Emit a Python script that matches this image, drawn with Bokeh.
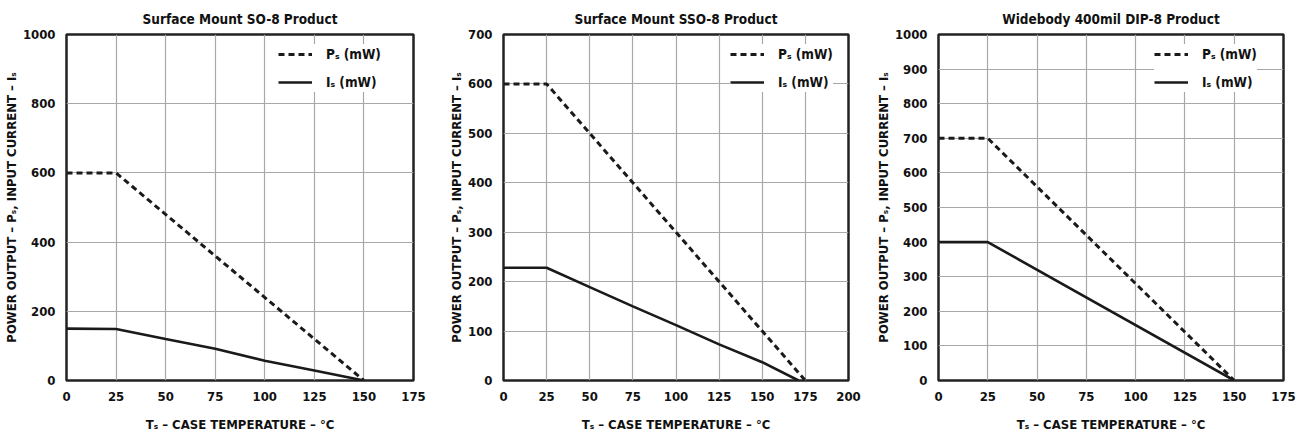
from bokeh.plotting import figure
from bokeh.layouts import row
from bokeh.models import Legend, LegendItem, FixedTicker, Range1d
from bokeh.embed import file_html
from bokeh.resources import INLINE

FONT = "'DejaVu Sans Condensed', 'Roboto Condensed', 'Liberation Sans Narrow', Roboto, sans-serif"

# Panel 1: Surface Mount SO-8
t1_ps = [0, 25, 150]
ps1 = [600, 600, 0]
t1_is = [0, 25, 50, 75, 100, 125, 150]
is1 = [150, 149, 120, 92, 57, 29, 0]

# Panel 2: Surface Mount SSO-8
t2_ps = [0, 25, 175]
ps2 = [600, 600, 0]
t2_is = [0, 25, 50, 75, 100, 125, 150, 171]
is2 = [228, 228, 189, 150, 112, 73, 37, 0]

# Panel 3: Widebody 400mil DIP-8
t3_ps = [0, 25, 150]
ps3 = [700, 700, 0]
t3_is = [0, 25, 150]
is3 = [400, 400, 0]

titles = ["Surface Mount SO-8 Product", "Surface Mount SSO-8 Product", "Widebody 400mil DIP-8 Product"]
x_max = [175, 200, 175]
y_max = [1000, 700, 1000]
y_step = [200, 100, 100]
x_ticks = [list(range(0, 176, 25)), list(range(0, 201, 25)), list(range(0, 176, 25))]

xlabel = "Tₛ – CASE TEMPERATURE – °C"
ylabel = "POWER OUTPUT – Pₛ, INPUT CURRENT – Iₛ"
leg_ps = "Pₛ (mW)"
leg_is = "Iₛ (mW)"

# (border_left, border_right, frame_width, legend_x)
borders = [(66, 27, 347, 212), (63, 24, 345, 227), (64, 23, 345, 216)]
FH = 346

data = [(t1_ps, ps1, t1_is, is1), (t2_ps, ps2, t2_is, is2), (t3_ps, ps3, t3_is, is3)]

figs = []
for i in range(3):
    bl, br, fw, lx = borders[i]
    p = figure(frame_width=fw, frame_height=FH, output_backend="svg", toolbar_location=None,
               x_range=Range1d(0, x_max[i]), y_range=Range1d(0, y_max[i]),
               min_border_left=bl, min_border_right=br, min_border_top=33, min_border_bottom=57,
               title=titles[i])
    p.title.align = "center"
    p.title.text_font = FONT
    p.title.text_font_size = "13.5px"
    p.title.text_font_style = "bold"
    p.title.text_color = "#111111"
    p.title.standoff = 16
    p.title.offset = 0

    p.outline_line_color = "#222222"
    p.outline_line_width = 2.5

    p.xaxis.ticker = FixedTicker(ticks=x_ticks[i])
    p.yaxis.ticker = FixedTicker(ticks=list(range(0, y_max[i] + 1, y_step[i])))
    for ax in (p.xaxis, p.yaxis):
        ax.axis_line_color = None
        ax.major_tick_line_color = None
        ax.minor_tick_line_color = None
        ax.major_label_text_font = FONT
        ax.major_label_text_font_style = "bold"
        ax.major_label_text_font_size = "13px"
        ax.major_label_text_color = "#111111"
        ax.axis_label_text_font = FONT
        ax.axis_label_text_font_style = "bold"
        ax.axis_label_text_font_size = "13px"
        ax.axis_label_text_color = "#111111"
    p.xaxis.axis_label = xlabel
    p.yaxis.axis_label = ylabel
    p.xaxis.major_label_standoff = 5
    p.xaxis.axis_label_standoff = 13
    p.yaxis.major_label_standoff = 5
    p.yaxis.axis_label_standoff = 1

    p.xgrid.grid_line_color = "#a8a8a8"
    p.ygrid.grid_line_color = "#a8a8a8"
    p.xgrid.grid_line_width = 1.2
    p.ygrid.grid_line_width = 1.2
    p.xgrid.ticker = p.xaxis.ticker
    p.ygrid.ticker = p.yaxis.ticker

    tx, py, ti, iy = data[i]
    r_ps = p.line(tx, py, line_color="#1a1a1a", line_width=3, line_dash="6 4")
    r_is = p.line(ti, iy, line_color="#1a1a1a", line_width=2.6)

    pad = 8
    leg_h = 2 * pad + 2 * 20 + 8
    legend = Legend(items=[LegendItem(label=leg_ps, renderers=[r_ps]),
                           LegendItem(label=leg_is, renderers=[r_is])],
                    location=(lx, FH - (11 - pad) - leg_h + 9))
    legend.border_line_color = None
    legend.background_fill_color = "white"
    legend.background_fill_alpha = 1.0
    legend.label_text_font = FONT
    legend.label_text_font_style = "bold"
    legend.label_text_font_size = "13.5px"
    legend.label_text_color = "#111111"
    legend.glyph_width = 34
    legend.glyph_height = 20
    legend.label_height = 20
    legend.label_standoff = 14
    legend.spacing = 8
    legend.margin = 0
    legend.padding = pad
    p.add_layout(legend)
    figs.append(p)

layout = row(*figs, spacing=0)
open("out.html", "w").write(file_html(layout, INLINE))
